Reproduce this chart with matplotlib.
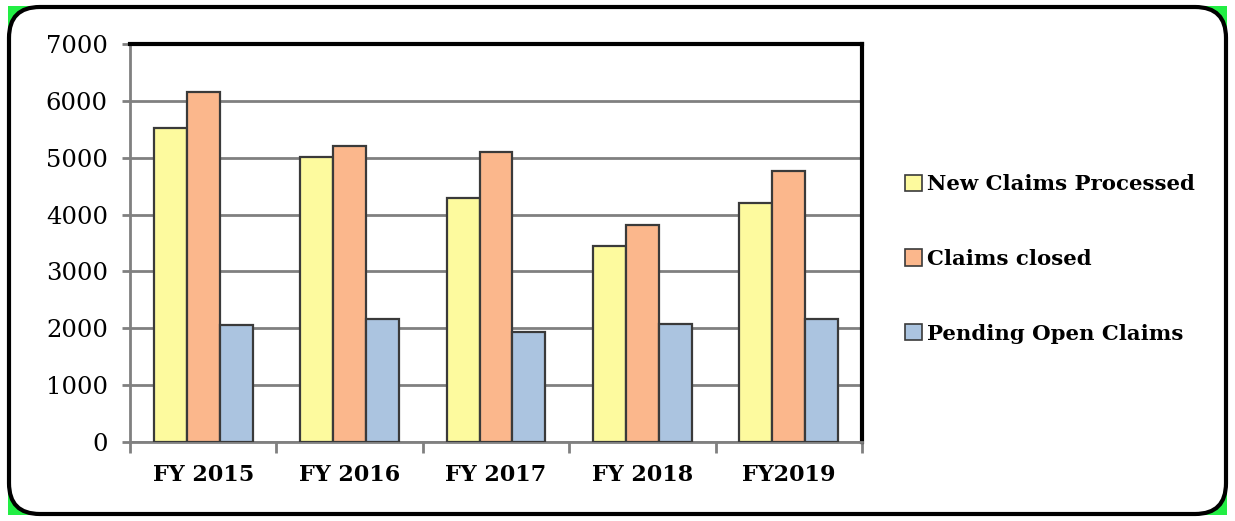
import numpy as np
import matplotlib
matplotlib.use('Agg')
import matplotlib.pyplot as plt
from matplotlib.patches import FancyBboxPatch, Rectangle, Patch

years = ['FY 2015', 'FY 2016', 'FY 2017', 'FY 2018', 'FY2019']
new_claims = [5520, 5010, 4290, 3455, 4200]
claims_closed = [6150, 5210, 5100, 3825, 4770]
pending_open = [2050, 2160, 1930, 2080, 2160]
series_names = ['New Claims Processed', 'Claims closed', 'Pending Open Claims']
colors = ['#FDFA9E', '#FBB78C', '#ABC4E0']

W, H = 1235, 521
fig = plt.figure(figsize=(W / 100, H / 100), dpi=100)
fig.patch.set_facecolor('white')

# green square corners behind the rounded white frame
back = Rectangle((8 / W, 6 / H), (W - 16) / W, (H - 12) / H,
                 transform=fig.transFigure, facecolor='#22EE44',
                 edgecolor='none', zorder=-6)
fig.patches.append(back)
box = FancyBboxPatch((9 / W, 7 / H), (W - 18) / W, (H - 14) / H,
                     boxstyle='round,pad=0,rounding_size=0.025',
                     transform=fig.transFigure, facecolor='white',
                     edgecolor='black', linewidth=3, mutation_aspect=W / H,
                     zorder=-5)
fig.patches.append(box)

ax = fig.add_axes([130 / W, (H - 442) / H, (862 - 130) / W, (442 - 44) / H])
ax.set_zorder(2)
ax.set_facecolor('white')

x = np.arange(len(years))
bw = 0.225
for i, vals in enumerate([new_claims, claims_closed, pending_open]):
    ax.bar(x + (i - 1) * bw, vals, bw, color=colors[i], edgecolor='#3a3a3a',
           linewidth=1.6, zorder=3)

ax.set_xlim(-0.5, len(years) - 0.5)
ax.set_ylim(0, 7000)
ax.set_yticks(np.arange(0, 7001, 1000))
ax.yaxis.grid(True, color='#808080', linewidth=2, zorder=0)
ax.set_axisbelow(True)

ax.set_xticks(x)
ax.set_xticklabels(years, fontfamily='DejaVu Serif', fontweight='bold', fontsize=16)
ax.set_xticks(np.arange(-0.5, len(years), 1), minor=True)
ax.tick_params(axis='x', which='major', length=0, pad=16)
ax.tick_params(axis='x', which='minor', length=8, width=2, color='#808080')
ax.tick_params(axis='y', length=6, width=2, color='#808080', pad=10)
for lab in ax.get_yticklabels():
    lab.set_fontfamily('DejaVu Serif')
    lab.set_fontsize(17.5)

ax.spines['left'].set_color('#808080')
ax.spines['left'].set_linewidth(2)
ax.spines['bottom'].set_color('#808080')
ax.spines['bottom'].set_linewidth(2)
ax.spines['top'].set_color('black')
ax.spines['top'].set_linewidth(3)
ax.spines['right'].set_color('black')
ax.spines['right'].set_linewidth(3)

handles = [Patch(facecolor=c, edgecolor='#3a3a3a', linewidth=1.2) for c in colors]
leg = fig.legend(handles, series_names, loc='center left',
                 bbox_to_anchor=(886 / W, (H - 259) / H), frameon=False,
                 prop={'family': 'DejaVu Serif', 'weight': 'bold', 'size': 15.3},
                 handlelength=0.8, handleheight=0.8, handletextpad=0.25,
                 labelspacing=2.57)
leg.set_zorder(3)

fig.savefig('out.png', dpi=100, facecolor=fig.get_facecolor())
